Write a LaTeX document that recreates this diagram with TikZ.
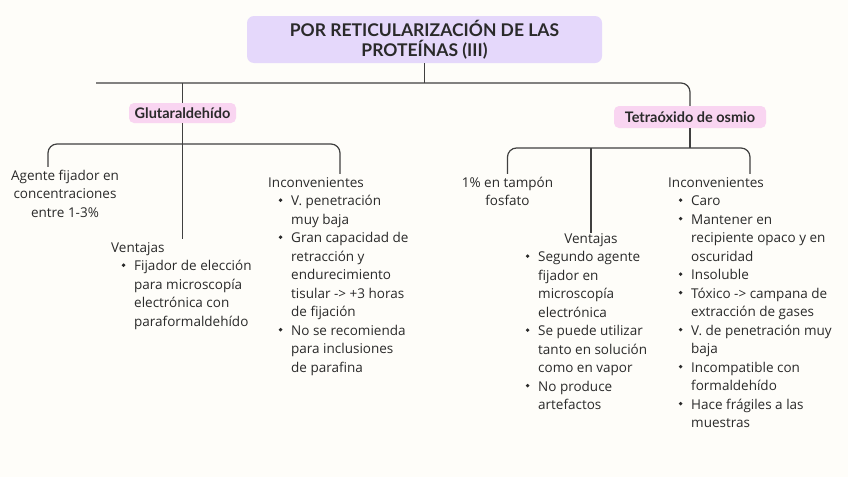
\documentclass[tikz,border=0pt]{standalone}
\usepackage{fontspec}
\setmainfont{Open Sans}
\newfontfamily\headfont{Lato}
\usetikzlibrary{positioning}

\definecolor{bgcol}{HTML}{FEFDF9}
\definecolor{lila}{HTML}{E5D8FB}
\definecolor{rosa}{HTML}{F9D5F1}
\definecolor{linecol}{HTML}{404040}
\definecolor{txtcol}{HTML}{2A2A2A}

\newcommand{\vdot}{\raisebox{3.4pt}{\tikz\fill[txtcol] (0,0) circle (1.9pt);}}
\newcommand{\vitem}[1]{\hspace*{10.5pt}\makebox[12.5pt][l]{\vdot}#1}
\newcommand{\vcont}[1]{\hspace*{23pt}#1}

\begin{document}
\begin{tikzpicture}[x=1pt,y=-1pt,
    topic/.style={fill=lila,rounded corners=7pt,align=center,text=txtcol,
      font=\headfont\bfseries\fontsize{17.5}{20.5}\selectfont},
    sub/.style={fill=rosa,rounded corners=5pt,inner sep=0pt,text=txtcol,
      font=\headfont\bfseries\fontsize{14.5}{17}\selectfont},
    txt/.style={inner sep=0pt,text=txtcol,font=\fontsize{13.5}{18.5}\selectfont},
    link/.style={draw=linecol,line width=1.2pt,rounded corners=9pt}]
  \useasboundingbox[fill=bgcol] (0,0) rectangle (848,477);

  % title and the two fixatives
  \node[topic,minimum width=355pt,minimum height=47pt] (title) at (424.5,39.5)
    {POR RETICULARIZACIÓN DE LAS\\PROTEÍNAS (III)};
  \node[sub,minimum width=107pt,minimum height=20pt] (glut) at (182.5,113) {Glutaraldehído};
  \node[sub,minimum width=152pt,minimum height=22pt] (tetra) at (690,117) {Tetraóxido de osmio};

  \coordinate (mL) at (96,83);
  \draw[link] (mL) -| (tetra.north);
  \draw[link] (title.south) -- (title.south |- mL);
  \draw[link] (glut.north |- mL) -- (glut.north);

  % glutaraldehido
  \node[txt,anchor=base] (gagent) at (65,180)
    {\begin{tabular}[t]{@{}c@{}}Agente fijador en\\concentraciones\\entre 1-3\%\end{tabular}};
  \node[txt,anchor=base west] (gvent) at (111,252)
    {\begin{tabular}[t]{@{}l@{}}Ventajas\\
      \vitem{Fijador de elección}\\ \vcont{para microscopía}\\
      \vcont{electrónica con}\\ \vcont{paraformaldehído}\end{tabular}};
  \node[txt,anchor=base west] (ginc) at (268,187)
    {\begin{tabular}[t]{@{}l@{}}Inconvenientes\\
      \vitem{V. penetración}\\ \vcont{muy baja}\\
      \vitem{Gran capacidad de}\\ \vcont{retracción y}\\ \vcont{endurecimiento}\\
      \vcont{tisular -> +3 horas}\\ \vcont{de fijación}\\
      \vitem{No se recomienda}\\ \vcont{para inclusiones}\\ \vcont{de parafina}\end{tabular}};

  \coordinate (gL) at (48,144);
  \coordinate (gR) at (340,144);
  \draw[link] (gL |- gagent.north) -- (gL) -- (gR) -- (gR |- ginc.north);
  \draw[link] (glut.south) -- (glut.south |- gvent.north);

  % tetraoxido de osmio
  \node[txt,anchor=base] (ofos) at (507.5,187)
    {\begin{tabular}[t]{@{}c@{}}1\% en tampón\\fosfato\end{tabular}};
  \node[txt,anchor=base] (overt) at (591,243) {Ventajas};
  \node[txt,anchor=base west] (ovlist) at (515,261.5)
    {\begin{tabular}[t]{@{}l@{}}
      \vitem{Segundo agente}\\ \vcont{fijador en}\\ \vcont{microscopía}\\ \vcont{electrónica}\\
      \vitem{Se puede utilizar}\\ \vcont{tanto en solución}\\ \vcont{como en vapor}\\
      \vitem{No produce}\\ \vcont{artefactos}\end{tabular}};
  \node[txt,anchor=base west] (oinc) at (668,187)
    {\begin{tabular}[t]{@{}l@{}}Inconvenientes\\
      \vitem{Caro}\\
      \vitem{Mantener en}\\ \vcont{recipiente opaco y en}\\ \vcont{oscuridad}\\
      \vitem{Insoluble}\\
      \vitem{Tóxico -> campana de}\\ \vcont{extracción de gases}\\
      \vitem{V. de penetración muy}\\ \vcont{baja}\\
      \vitem{Incompatible con}\\ \vcont{formaldehído}\\
      \vitem{Hace frágiles a las}\\ \vcont{muestras}\end{tabular}};

  \coordinate (oR) at (750,148);
  \draw[link] (ofos.north) |- (oR) -- (oR |- oinc.north);
  \draw[link] (tetra.south) -- (tetra.south |- oR);
  \draw[link] (overt.north |- oR) -- (overt.north);
\end{tikzpicture}
\end{document}
